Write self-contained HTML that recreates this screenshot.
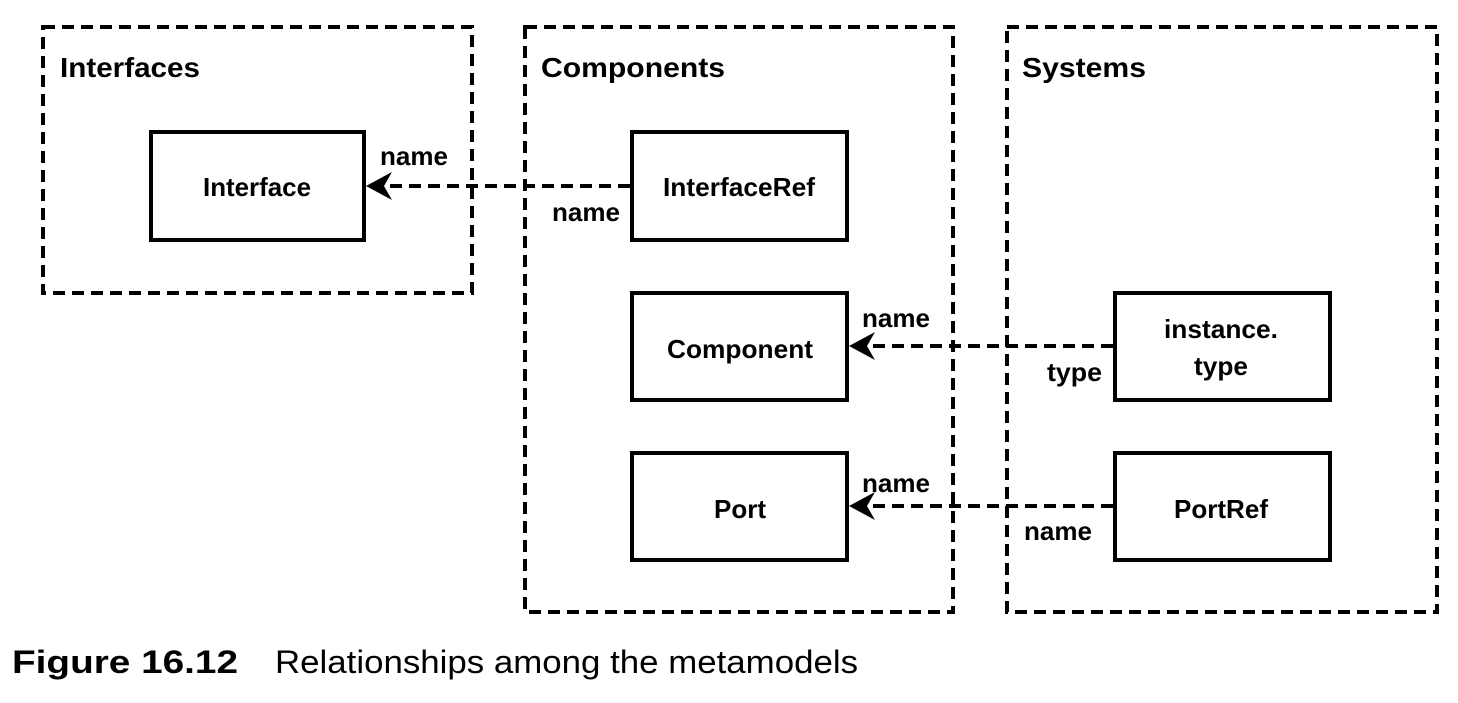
<!DOCTYPE html>
<html><head><style>
body{margin:0;background:#fff;width:1458px;height:698px;overflow:hidden}
</style></head><body>
<svg width="1458" height="698" xmlns="http://www.w3.org/2000/svg" font-family="Liberation Sans, sans-serif">
<g fill="none" stroke="#000" stroke-width="4" stroke-dasharray="12,7">
<rect x="43" y="27" width="429" height="266"/>
<rect x="525" y="27" width="428" height="585"/>
<rect x="1007" y="27" width="430" height="585"/>
</g>
<g fill="none" stroke="#000" stroke-width="4">
<rect x="151" y="132" width="213" height="108"/>
<rect x="632" y="132" width="215" height="108"/>
<rect x="632" y="293" width="215" height="107"/>
<rect x="632" y="453" width="215" height="107"/>
<rect x="1115" y="293" width="215" height="107"/>
<rect x="1115" y="453" width="215" height="107"/>
</g>
<g stroke="#000" stroke-width="4" stroke-dasharray="12,7">
<line x1="630" y1="186" x2="385" y2="186"/>
<line x1="1113" y1="346" x2="868" y2="346"/>
<line x1="1113" y1="506" x2="868" y2="506"/>
</g>
<g fill="#000">
<polygon points="366,186 392,172 384,186 392,200"/>
<polygon points="849,346 875,332 867,346 875,360"/>
<polygon points="849,506 875,492 867,506 875,520"/>
</g>
<g font-weight="bold" font-size="28">
<text x="60" y="77" textLength="140" lengthAdjust="spacingAndGlyphs">Interfaces</text>
<text x="541" y="77" textLength="184" lengthAdjust="spacingAndGlyphs">Components</text>
<text x="1022" y="77" textLength="124" lengthAdjust="spacingAndGlyphs">Systems</text>
</g>
<g font-weight="bold" font-size="26">
<text x="203" y="196" textLength="108" lengthAdjust="spacingAndGlyphs">Interface</text>
<text x="663" y="196" textLength="152" lengthAdjust="spacingAndGlyphs">InterfaceRef</text>
<text x="667" y="358" textLength="146" lengthAdjust="spacingAndGlyphs">Component</text>
<text x="714" y="518" textLength="52" lengthAdjust="spacingAndGlyphs">Port</text>
<text x="1164" y="338" textLength="114" lengthAdjust="spacingAndGlyphs">instance.</text>
<text x="1194" y="375" textLength="54" lengthAdjust="spacingAndGlyphs">type</text>
<text x="1174" y="518" textLength="94" lengthAdjust="spacingAndGlyphs">PortRef</text>
<text x="380" y="165" textLength="68" lengthAdjust="spacingAndGlyphs">name</text>
<text x="552" y="221" textLength="68" lengthAdjust="spacingAndGlyphs">name</text>
<text x="862" y="327" textLength="68" lengthAdjust="spacingAndGlyphs">name</text>
<text x="1047" y="381" textLength="55" lengthAdjust="spacingAndGlyphs">type</text>
<text x="862" y="492" textLength="68" lengthAdjust="spacingAndGlyphs">name</text>
<text x="1024" y="540" textLength="68" lengthAdjust="spacingAndGlyphs">name</text>
</g>
<text x="12" y="673" font-size="32" font-weight="bold" textLength="226" lengthAdjust="spacingAndGlyphs">Figure 16.12</text>
<text x="275" y="673" font-size="32" textLength="583" lengthAdjust="spacingAndGlyphs">Relationships among the metamodels</text>
</svg>
</body></html>
